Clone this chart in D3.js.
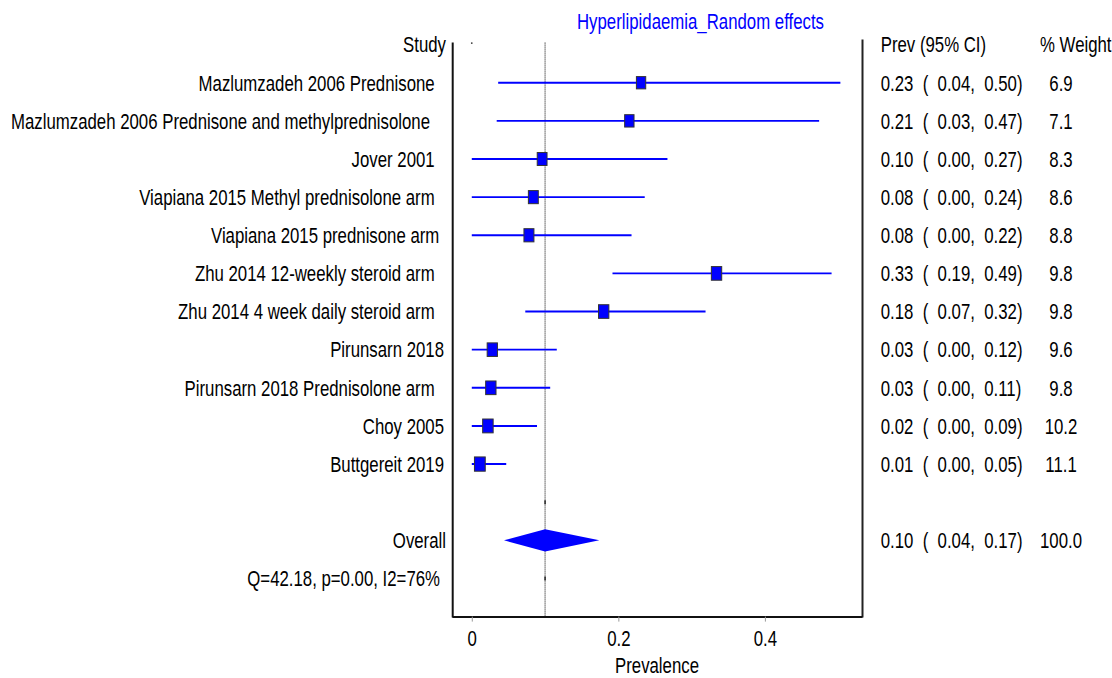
<!DOCTYPE html>
<html>
<head>
<meta charset="utf-8">
<script src="https://cdn.jsdelivr.net/npm/d3@7"></script>
<style>
  body { margin: 0; background: #fff; }
  svg text { font-family: "Liberation Sans", Arial, Helvetica, sans-serif; white-space: pre; }
</style>
</head>
<body>
<svg id="chart" width="1112" height="678"></svg>
<script>
// Study-level prevalence estimates (random-effects meta-analysis of hyperlipidaemia)
const studies = [
  "Mazlumzadeh 2006 Prednisone  ",
  "Mazlumzadeh 2006 Prednisone and methylprednisolone   ",
  "Jover 2001  ",
  "Viapiana 2015 Methyl prednisolone arm  ",
  "Viapiana 2015 prednisone arm ",
  "Zhu 2014 12-weekly steroid arm  ",
  "Zhu 2014 4 week daily steroid arm  ",
  "Pirunsarn 2018",
  "Pirunsarn 2018 Prednisolone arm  ",
  "Choy 2005",
  "Buttgereit 2019"
];
const prevalence = [0.231, 0.215, 0.096, 0.084, 0.078, 0.334, 0.180, 0.028, 0.026, 0.022, 0.011];
const ciLow      = [0.036, 0.034, 0.000, 0.000, 0.000, 0.192, 0.073, 0.000, 0.000, 0.000, 0.000];
const ciHigh     = [0.503, 0.474, 0.267, 0.236, 0.218, 0.491, 0.319, 0.116, 0.107, 0.089, 0.047];
const weights    = [6.9, 7.1, 8.3, 8.6, 8.8, 9.8, 9.8, 9.6, 9.8, 10.2, 11.1];

// Pooled estimate
const overallPrev = 0.100;
const overallLow = 0.044;
const overallHigh = 0.174;
const overallWeight = 100.0;

// Heterogeneity statistics
const statQ = 42.18;
const statP = 0.00;
const statI2 = 76;

const xTicks = [0, 0.2, 0.4];
const chartTitle = "Hyperlipidaemia_Random effects";
const xLabel = "Prevalence";

const FS = 16.8;      // font size
const SY = 1.32;      // vertical text stretch
const BLUE = "#0000ff";

const svg = d3.select("#chart");

// Row positions: 0 header, 1..11 studies, 13 overall, 14 heterogeneity, 15 axis
const y = d3.scaleLinear().domain([0, 15]).range([44.6, 616.6]);
const x = d3.scaleLinear().domain([-0.027, 0.5325]).range([452, 862]);
const boxW = d3.scaleLinear().domain(d3.extent(weights)).range([9.3, 10.8]);

const f2 = d3.format(".2f");
const f1 = d3.format(".1f");
const textOff = 7.8;

function label(g, px, py, s, anchor, color) {
  return g.append("text")
    .attr("transform", `translate(${px},${py}) scale(1,${SY})`)
    .attr("xml:space", "preserve")
    .attr("text-anchor", anchor)
    .attr("font-size", FS)
    .attr("fill", color || "#000")
    .text(s);
}

const textG = svg.append("g");
const plotG = svg.append("g");

// Title
label(textG, 577, 29.3, chartTitle, "start", BLUE);

// Headers
label(textG, 446, y(0) + textOff, "Study", "end");
label(textG, 880.7, y(0) + textOff, "Prev (95% CI)", "start");
label(textG, 1040, y(0) + textOff, "% Weight", "start");

// Frame lines of the plotting panel
plotG.append("line").attr("x1", 452.7).attr("x2", 452.7).attr("y1", y(0) - 2).attr("y2", y(15) + 1)
  .attr("stroke", "#111").attr("stroke-width", 2);
plotG.append("line").attr("x1", 862.5).attr("x2", 862.5).attr("y1", y(0) - 5).attr("y2", y(15) + 1)
  .attr("stroke", "#222").attr("stroke-width", 2);

// Reference line at the pooled estimate
plotG.append("line")
  .attr("x1", x(overallPrev)).attr("x2", x(overallPrev))
  .attr("y1", y(0) - 2).attr("y2", y(15))
  .attr("stroke", "#000").attr("stroke-width", 1).attr("stroke-dasharray", "1,1");
[12, 14].forEach(r => {
  plotG.append("line")
    .attr("x1", x(overallPrev)).attr("x2", x(overallPrev))
    .attr("y1", y(r) - 2).attr("y2", y(r) + 2)
    .attr("stroke", "#000").attr("stroke-width", 1.2);
});
// header row marker at zero
plotG.append("circle").attr("cx", x(0)).attr("cy", y(0) - 1.5).attr("r", 0.9).attr("fill", "#333");

// Study rows
const rows = studies.map((s, i) => ({
  name: s, est: prevalence[i], lo: ciLow[i], hi: ciHigh[i], w: weights[i], row: i + 1
}));

plotG.selectAll("line.ci").data(rows).join("line")
  .attr("class", "ci")
  .attr("x1", d => x(d.lo)).attr("x2", d => x(d.hi))
  .attr("y1", d => y(d.row)).attr("y2", d => y(d.row))
  .attr("stroke", BLUE).attr("stroke-width", 1.9);

plotG.selectAll("rect.box").data(rows).join("rect")
  .attr("class", "box")
  .attr("x", d => x(d.est) - boxW(d.w) / 2)
  .attr("y", d => y(d.row) - boxW(d.w) * SY / 2)
  .attr("width", d => boxW(d.w))
  .attr("height", d => boxW(d.w) * SY)
  .attr("fill", BLUE).attr("stroke", "#333").attr("stroke-width", 1);

rows.forEach(d => {
  label(textG, 444, y(d.row) + textOff, d.name, "end");
  label(textG, 880.7, y(d.row) + textOff, `${f2(d.est)}  (  ${f2(d.lo)},  ${f2(d.hi)})`, "start");
  label(textG, 1061, y(d.row) + textOff, f1(d.w), "middle");
});

// Overall diamond
const yo = y(13);
const dh = 11.2;
plotG.append("path")
  .attr("d", d3.line()([
    [x(overallLow), yo], [x(overallPrev), yo - dh], [x(overallHigh), yo], [x(overallPrev), yo + dh]
  ]) + "Z")
  .attr("fill", BLUE);

label(textG, 446, yo + textOff, "Overall", "end");
label(textG, 880.7, yo + textOff, `${f2(overallPrev)}  (  ${f2(overallLow)},  ${f2(overallHigh)})`, "start");
label(textG, 1061, yo + textOff, f1(overallWeight), "middle");

label(textG, 440, y(14) + textOff, `Q=${f2(statQ)}, p=${f2(statP)}, I2=${statI2}%`, "end");

// X axis
const axisG = plotG.append("g").attr("transform", `translate(0,${y(15)})`)
  .call(d3.axisBottom(x).tickValues(xTicks).tickSize(5).tickSizeOuter(0).tickFormat(d3.format("")));
axisG.select(".domain").attr("stroke", "#111").attr("stroke-width", 2);
axisG.selectAll(".tick line").attr("stroke", "#999").attr("stroke-width", 1);
axisG.selectAll(".tick text")
  .attr("y", 29.4 / SY).attr("dy", null)
  .attr("transform", `scale(1,${SY})`)
  .attr("font-size", FS)
  .attr("font-family", '"Liberation Sans", Arial, sans-serif')
  .attr("fill", "#000");

label(textG, 657, 672.5, xLabel, "middle");
</script>
</body>
</html>
